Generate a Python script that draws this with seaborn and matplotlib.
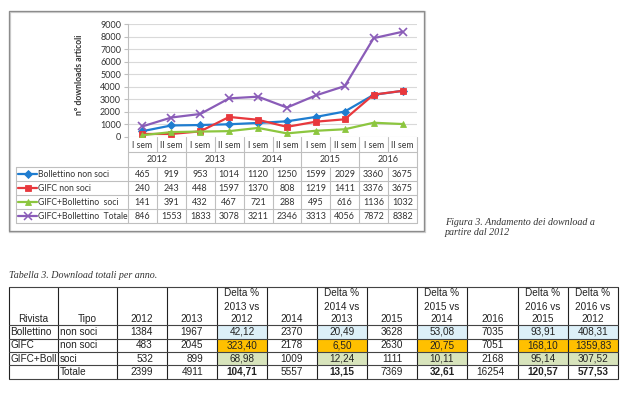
import numpy as np
import pandas as pd
import matplotlib
matplotlib.use("Agg")
import matplotlib.pyplot as plt
import seaborn as sns
from matplotlib.patches import Rectangle
from matplotlib.lines import Line2D

sns.set_style("white")
plt.rcParams['font.family'] = ['Lato', 'DejaVu Sans']

# ------------------------------------------------------------
# dati del grafico (download per semestre)
# ------------------------------------------------------------
sem_labels = ["I sem", "II sem"] * 5
year_labels = ["2012", "2013", "2014", "2015", "2016"]
serie_nomi = ["Bollettino non soci", "GIFC non soci",
              "GIFC+Bollettino  soci", "GIFC+Bollettino  Totale"]
bollettino_non_soci = [465, 919, 953, 1014, 1120, 1250, 1599, 2029, 3360, 3675]
gifc_non_soci = [240, 243, 448, 1597, 1370, 808, 1219, 1411, 3376, 3675]
gifc_boll_soci = [141, 391, 432, 467, 721, 288, 495, 616, 1136, 1032]
gifc_boll_totale = [846, 1553, 1833, 3078, 3211, 2346, 3313, 4056, 7872, 8382]
y_ticks = [0, 1000, 2000, 3000, 4000, 5000, 6000, 7000, 8000, 9000]

# ------------------------------------------------------------
# dati tabella 3 (download totali per anno)
# ------------------------------------------------------------
rivista = ["Bollettino", "GIFC", "GIFC+Boll", ""]
tipo = ["non soci", "non soci", "soci", "Totale"]
tot_2012 = [1384, 483, 532, 2399]
tot_2013 = [1967, 2045, 899, 4911]
delta_13_12 = [42.12, 323.40, 68.98, 104.71]
tot_2014 = [2370, 2178, 1009, 5557]
delta_14_13 = [20.49, 6.50, 12.24, 13.15]
tot_2015 = [3628, 2630, 1111, 7369]
delta_15_14 = [53.08, 20.75, 10.11, 32.61]
tot_2016 = [7035, 7051, 2168, 16254]
delta_16_15 = [93.91, 168.10, 95.14, 120.57]
delta_16_12 = [408.31, 1359.83, 307.52, 577.53]
intestazioni = ["Rivista", "Tipo", "2012", "2013", "Delta %\n2013 vs\n2012", "2014",
                "Delta %\n2014 vs\n2013", "2015", "Delta %\n2015 vs\n2014", "2016",
                "Delta %\n2016 vs\n2015", "Delta %\n2016 vs\n2012"]

colori = ["#1F7DD0", "#E8383D", "#8CC63F", "#8A5CB8"]
marker = ["D", "s", "^", "x"]
msize = [3.6, 4.8, 4.8, 5.2]
colori_riga = ["#DDF0F8", "#FFC000", "#D8E4BC", "white"]

W, H = 628, 394
fs_chart = 6.2
fig = plt.figure(figsize=(W / 100, H / 100), dpi=100)

# overlay in pixel per cornici, tabelle e testi
ov = fig.add_axes([0, 0, 1, 1])
ov.set_xlim(0, W)
ov.set_ylim(H, 0)
ov.axis("off")

# cornice del grafico
ov.add_patch(Rectangle((10, 12), 415, 220, fill=False, ec="#D0D0D0", lw=1.6))
ov.add_patch(Rectangle((9, 11), 415, 220, fill=False, ec="#8C8C8C", lw=0.9))

# ------------------------------------------------------------
# area del grafico
# ------------------------------------------------------------
px_l, px_r, px_t, px_b = 128, 417, 24, 137
ax = fig.add_axes([px_l / W, 1 - px_b / H, (px_r - px_l) / W, (px_b - px_t) / H])
ax.patch.set_alpha(0)

xpos = np.arange(len(sem_labels))
serie_valori = [bollettino_non_soci, gifc_non_soci, gifc_boll_soci, gifc_boll_totale]
for nome, vals, c, m, s in zip(serie_nomi, serie_valori, colori, marker, msize):
    df = pd.DataFrame({"pos": xpos, "val": vals})
    sns.lineplot(data=df, x="pos", y="val", ax=ax, color=c, lw=1.6,
                 marker=m, markersize=s, markeredgecolor=c,
                 markeredgewidth=1.2 if m == "x" else 0.6, label=nome, zorder=3)
ax.legend_.remove()

ax.set_xlim(-0.5, len(sem_labels) - 0.5)
ax.set_ylim(0, 9000)
ax.set_yticks(y_ticks)
ax.set_yticklabels([str(t) for t in y_ticks], fontsize=fs_chart + 0.3, color="#333333")
ax.set_xticks([])
ax.set_xlabel("")
ax.set_ylabel("")
ax.grid(axis="y", color="#D9D9D9", lw=0.8)
for sp in ["top", "right", "bottom"]:
    ax.spines[sp].set_visible(False)
ax.spines["left"].set_color("#BFBFBF")
ax.tick_params(axis="y", length=3, color="#BFBFBF", pad=2, left=True)

ov.text(80, 75, "n° downloads articoli", rotation=90, ha="center", va="center",
        fontsize=6.2, fontweight="bold", color="#333333")

# ------------------------------------------------------------
# tabella dati sotto il grafico
# ------------------------------------------------------------
gcol = "#BFBFBF"
cw = (px_r - px_l) / len(sem_labels)
righe_y = [167, 181, 195, 209, 223]

for i in range(len(sem_labels) + 1):
    x = px_l + i * cw
    if i % 2 == 0:
        ov.plot([x, x], [137, 223], color=gcol, lw=0.8)
    else:
        ov.plot([x, x], [137, 152], color=gcol, lw=0.8)
        ov.plot([x, x], [167, 223], color=gcol, lw=0.8)
ov.plot([px_l, px_r], [152, 152], color=gcol, lw=0.8)
ov.plot([16, 16], [167, 223], color=gcol, lw=0.8)
for y in righe_y:
    ov.plot([16, px_r], [y, y], color=gcol, lw=0.8)

for i, lab in enumerate(sem_labels):
    ov.text(px_l + (i + 0.5) * cw, 145, lab, ha="center", va="center",
            fontsize=fs_chart, color="#333333")
for j, lab in enumerate(year_labels):
    ov.text(px_l + (2 * j + 1) * cw, 159.5, lab, ha="center", va="center",
            fontsize=fs_chart + 0.3, color="#333333")

for r, (nome, vals, c, m, s) in enumerate(zip(serie_nomi, serie_valori, colori, marker, msize)):
    yc = (righe_y[r] + righe_y[r + 1]) / 2
    ov.add_line(Line2D([18, 37], [yc, yc], color=c, lw=1.6))
    ov.add_line(Line2D([27.5], [yc], color=c, marker=m, markersize=s,
                       markeredgecolor=c, markeredgewidth=1.1 if m == "x" else 0.6))
    ov.text(38.5, yc, nome, ha="left", va="center", fontsize=fs_chart, color="#333333")
    for i, v in enumerate(vals):
        ov.text(px_l + (i + 0.5) * cw, yc, str(v), ha="center", va="center",
                fontsize=fs_chart + 0.3, color="#333333")

# didascalia figura
serif = ["Liberation Serif", "DejaVu Serif"]
ov.text(445, 222, "Figura 3. Andamento dei download a", ha="left", va="center",
        fontsize=7.2, style="italic", family=serif, color="#333333")
ov.text(445, 232, "partire dal 2012", ha="left", va="center",
        fontsize=7.2, style="italic", family=serif, color="#333333")

# ------------------------------------------------------------
# Tabella 3
# ------------------------------------------------------------
ov.text(9, 275, "Tabella 3. Download totali per anno.", ha="left", va="center",
        fontsize=7.2, style="italic", family=serif, color="#333333")

sans = ["Liberation Sans", "DejaVu Sans"]
col_x = [9, 58, 117, 167, 217, 267, 317, 367, 417, 467, 518, 568, 618]
row_y = [287, 325, 339, 352, 365, 379]
delta_cols = {4, 6, 8, 10, 11}
colonne = [rivista, tipo, tot_2012, tot_2013, delta_13_12, tot_2014, delta_14_13,
           tot_2015, delta_15_14, tot_2016, delta_16_15, delta_16_12]

# celle colorate
for r in range(4):
    for c in delta_cols:
        ov.add_patch(Rectangle((col_x[c], row_y[r + 1]), col_x[c + 1] - col_x[c],
                               row_y[r + 2] - row_y[r + 1], fc=colori_riga[r], ec="none"))

for x in col_x:
    ov.plot([x, x], [row_y[0], row_y[-1]], color="#222222", lw=0.8)
for y in row_y:
    ov.plot([col_x[0], col_x[-1]], [y, y], color="#444444", lw=0.8)

# intestazioni
for c, lab in enumerate(intestazioni):
    xc = (col_x[c] + col_x[c + 1]) / 2
    righe = lab.split("\n")
    for k, t in enumerate(righe):
        yy = 319.5 - (len(righe) - 1 - k) * 13
        ov.text(xc, yy, t, ha="center", va="center", fontsize=7.2,
                family=sans, color="#222222")

# valori
for r in range(4):
    yc = (row_y[r + 1] + row_y[r + 2]) / 2
    for c, col in enumerate(colonne):
        v = col[r]
        if c < 2:
            ov.text(col_x[c] + 1.5, yc, v, ha="left", va="center", fontsize=7.2,
                    family=sans, color="#222222")
        elif c in delta_cols:
            testo = f"{v:.2f}".replace(".", ",")
            ov.text((col_x[c] + col_x[c + 1]) / 2, yc, testo, ha="center", va="center",
                    fontsize=7.2, family=sans, color="#222222",
                    fontweight="bold" if r == 3 else "normal")
        else:
            ov.text(col_x[c + 1] - 14, yc, str(v), ha="right", va="center",
                    fontsize=7.2, family=sans, color="#222222")

fig.savefig("out.png", dpi=100)
